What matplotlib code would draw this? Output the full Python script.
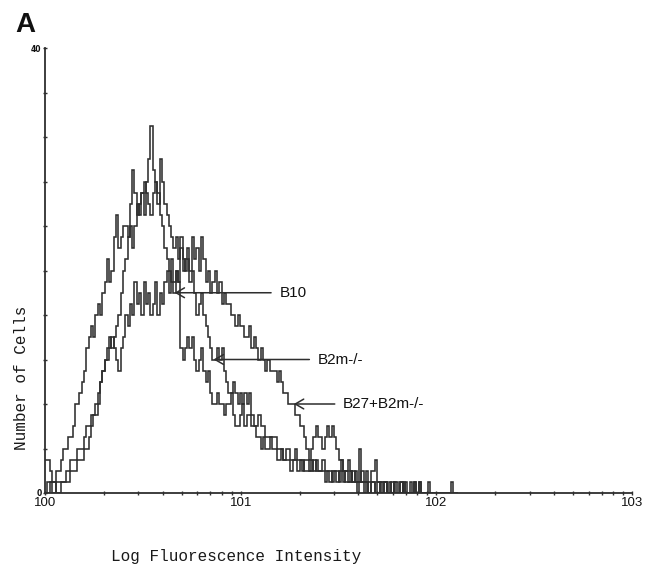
import numpy as np
import matplotlib
matplotlib.use("Agg")
import matplotlib.pyplot as plt
from matplotlib.ticker import FixedLocator, FixedFormatter, NullFormatter

# Log-amplified fluorescence histograms: 256 channels spanning 3 decades,
# counts per channel (channels past the end of each list are empty).
b10 = [3, 3, 2, 1, 1, 2, 2, 3, 4, 4,
       5, 5, 6, 8, 8, 9, 10, 11, 13, 14,
       15, 14, 16, 17, 16, 18, 19, 21, 19, 20,
       23, 25, 22, 23, 24, 24, 23, 26, 29, 27,
       25, 26, 27, 25, 28, 30, 33, 29, 28, 27,
       25, 24, 22, 21, 20, 19, 18, 20, 19, 13,
       12, 13, 14, 13, 14, 12, 11, 12, 13, 11,
       10, 11, 9, 8, 8, 9, 8, 8, 7, 8,
       8, 9, 7, 6, 6, 7, 8, 6, 7, 7,
       6, 6, 5, 5, 4, 5, 4, 4, 5, 4,
       4, 3, 3, 4, 3, 3, 3, 2, 3, 3,
       2, 3, 3, 2, 2, 2, 3, 2, 3, 2,
       2, 2, 1, 2, 2, 1, 2, 2, 1, 3,
       2, 1, 1, 2, 1, 1, 0, 1, 1, 0,
       1, 0, 1, 1, 0, 0, 1, 0, 1, 0,
       0, 0, 1, 0, 0, 1, 0, 0, 0, 0,
       0, 1, 0, 0, 0, 0, 0, 0, 0, 0]

b2m_ko = [0, 1, 1, 0, 0, 1, 1, 1, 1, 2,
          2, 3, 3, 3, 4, 4, 4, 5, 6, 6,
          7, 7, 8, 9, 10, 11, 12, 13, 14, 13,
          14, 15, 16, 18, 20, 21, 23, 24, 22, 24,
          26, 25, 27, 28, 27, 26, 25, 27, 28, 26,
          30, 28, 26, 25, 24, 23, 22, 23, 21, 23,
          21, 20, 21, 19, 20, 18, 16, 17, 18, 16,
          15, 14, 13, 12, 12, 13, 12, 13, 11, 10,
          9, 9, 10, 9, 8, 9, 8, 9, 8, 9,
          7, 6, 6, 7, 6, 6, 5, 5, 5, 5,
          5, 4, 4, 4, 3, 4, 4, 3, 3, 4,
          3, 3, 2, 3, 3, 2, 2, 3, 2, 2,
          2, 3, 2, 2, 1, 2, 2, 1, 2, 2,
          1, 2, 1, 1, 2, 1, 1, 4, 1, 1,
          1, 0, 1, 1, 0, 1, 0, 0, 1, 0,
          0, 1, 0, 0, 0, 0, 1, 0, 0, 0,
          0, 0, 0, 1, 0, 0, 0, 0, 0, 0]

b27_b2m_ko = [0, 0, 1, 1, 1, 0, 0, 1, 1, 1,
              1, 2, 2, 2, 3, 3, 3, 4, 4, 5,
              6, 7, 7, 8, 10, 11, 12, 12, 13, 14,
              13, 12, 11, 13, 14, 16, 15, 17, 16, 19,
              17, 18, 16, 19, 17, 18, 16, 17, 19, 16,
              18, 17, 19, 20, 18, 21, 19, 20, 19, 22,
              20, 21, 22, 20, 23, 21, 22, 20, 23, 21,
              19, 20, 18, 19, 20, 18, 19, 17, 18, 17,
              17, 16, 16, 15, 16, 15, 15, 14, 14, 15,
              13, 14, 13, 12, 13, 12, 11, 12, 11, 11,
              11, 10, 11, 10, 9, 9, 8, 8, 8, 7,
              7, 6, 6, 5, 4, 3, 4, 5, 6, 5,
              5, 4, 5, 6, 5, 6, 5, 4, 3, 3,
              2, 2, 3, 2, 1, 2, 1, 1, 2, 1,
              2, 1, 2, 2, 3, 1, 1, 1, 1, 0,
              1, 0, 1, 1, 0, 1, 0, 1, 0, 1,
              0, 1, 0, 1, 0, 0, 0, 1, 0, 0,
              0, 0, 0, 0, 0, 0, 0, 1, 0, 0]

series_labels = ["B10", "B2m-/-", "B27+B2m-/-"]
label_channels = [56, 73, 108]          # channel each label's arrow points at
label_offsets_pt = [75.5, 75.0, 35.5]   # label distance right of arrow tip

n_channels = 256
n_decades = 3
x_major = [1, 10, 100, 1000]
x_major_labels = ["100", "101", "102", "103"]
y_max = 40
y_step = 4

ink = "#2e2e2e"

fig = plt.figure(figsize=(6.53, 5.67), dpi=100)
ax = fig.add_axes([45 / 653, 74 / 567, 587 / 653, 445 / 567])

edges = 10.0 ** (np.arange(n_channels + 1) * n_decades / n_channels)
centers = np.sqrt(edges[:-1] * edges[1:])

all_series = [b10, b2m_ko, b27_b2m_ko]
for vals in all_series:
    ax.stairs(vals, edges[:len(vals) + 1], baseline=None,
              color=ink, lw=1.15)

ax.set_xscale("log")
ax.set_xlim(1, 1000)
ax.set_ylim(0, y_max)

for side in ("top", "right"):
    ax.spines[side].set_visible(False)
for side in ("left", "bottom"):
    ax.spines[side].set_linewidth(1.3)
    ax.spines[side].set_color(ink)

ax.xaxis.set_major_locator(FixedLocator(x_major))
ax.xaxis.set_major_formatter(FixedFormatter(x_major_labels))
minor = [k * 10 ** d for d in range(n_decades) for k in range(2, 10)]
ax.xaxis.set_minor_locator(FixedLocator(minor))
ax.xaxis.set_minor_formatter(NullFormatter())

y_ticks = list(range(0, y_max + 1, y_step))
ax.yaxis.set_major_locator(FixedLocator(y_ticks))
ax.yaxis.set_major_formatter(FixedFormatter(
    [str(t) if t in (0, y_max) else "" for t in y_ticks]))

ax.tick_params(axis="x", which="both", direction="inout", length=3,
               width=1, color=ink, pad=1.5, labelsize=9.5,
               labelcolor="#111111")
ax.tick_params(axis="y", which="both", direction="inout", length=3,
               width=1, color=ink, pad=1, labelsize=5.5,
               labelcolor="#111111")
for lbl in ax.get_xticklabels():
    lbl.set_fontfamily("Liberation Sans")
for lbl in ax.get_yticklabels():
    lbl.set_fontweight("bold")

for label, ch, off, vals in zip(series_labels, label_channels,
                                label_offsets_pt, all_series):
    ax.annotate(label, xy=(centers[ch], vals[ch]),
                xytext=(off, 0), textcoords="offset points",
                ha="left", va="center",
                fontsize=11, family="Liberation Sans", color="#111111",
                arrowprops=dict(arrowstyle="->,head_length=0.55,head_width=0.32",
                                lw=1.1, color=ink, shrinkA=4, shrinkB=0))

fig.text(236 / 653, 1 - 561 / 567, "Log Fluorescence Intensity",
         family="Liberation Mono", fontsize=11.5, ha="center",
         va="baseline", color="#1a1a1a")
fig.text(22 / 653, 1 - 378 / 567, "Number of Cells", rotation=90,
         family="Liberation Mono", fontsize=11.5, ha="center",
         va="center", color="#1a1a1a")
fig.text(15 / 653, 1 - 32 / 567, "A", family="Liberation Sans",
         fontweight="bold", fontsize=20, ha="left", va="baseline",
         color="#111111")

fig.savefig("out.png", dpi=100, facecolor="white")
